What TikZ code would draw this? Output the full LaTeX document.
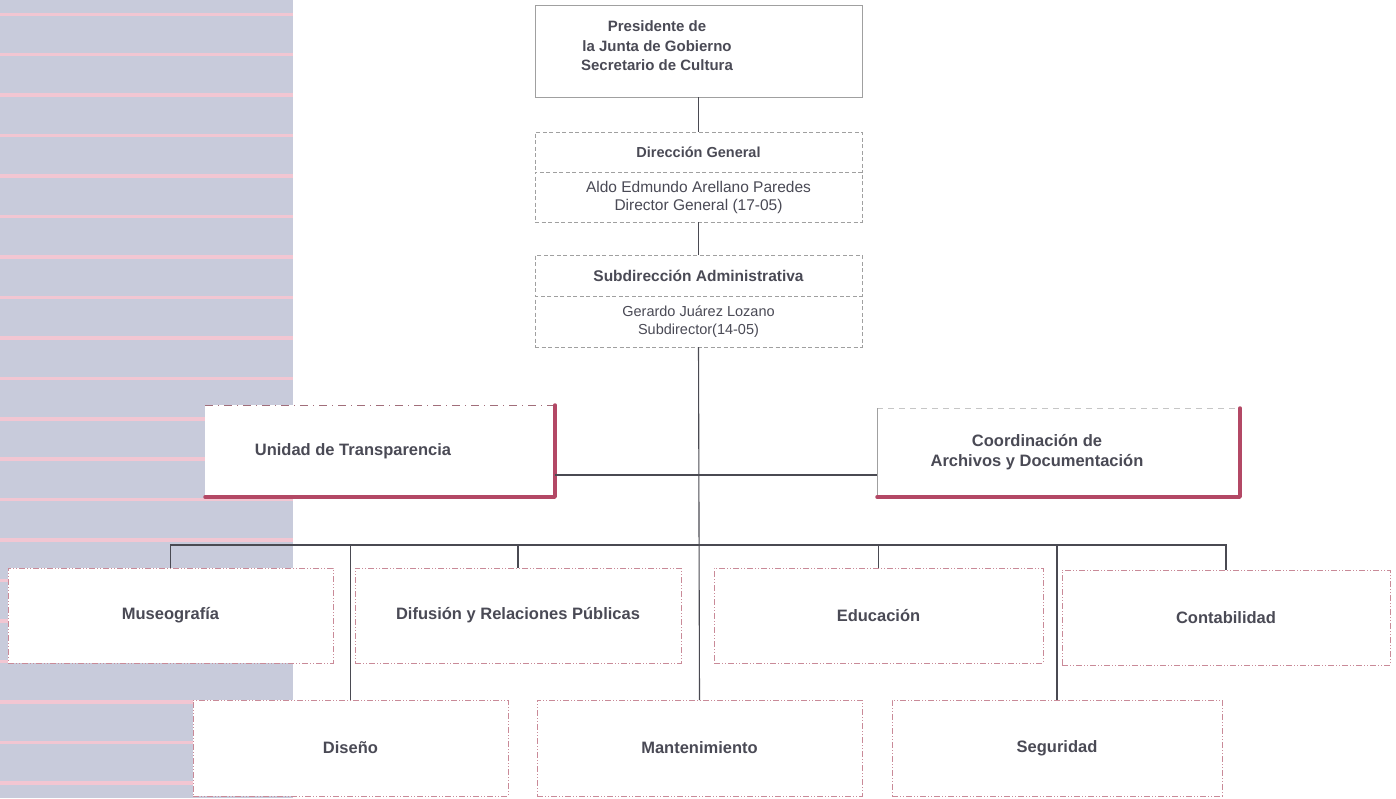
\documentclass[tikz,border=0pt]{standalone}
\usepackage{fontspec}
\setmainfont{Liberation Sans}
\definecolor{panel}{HTML}{C8CBDB}
\definecolor{stripe}{HTML}{F2C6D2}
\definecolor{txt}{HTML}{4A4A55}
\definecolor{conn}{HTML}{4A4A52}
\definecolor{redline}{HTML}{B34865}
\definecolor{pinkdash}{HTML}{C98A98}
\definecolor{graydash}{HTML}{A0A0A0}
\begin{document}
\begin{tikzpicture}[x=1pt,y=-1pt,
  every node/.style={inner sep=0pt,outer sep=0pt,text=txt,align=center},
  topbox/.style={draw=graydash,line width=0.8pt,fill=white},
  dtitle/.style={draw=graydash,line width=0.8pt,dash pattern=on 4pt off 2.5pt,fill=white},
  dname/.style={draw=graydash,line width=0.8pt,dash pattern=on 4pt off 2.5pt,fill=white},
  shbox/.style={fill=white},
  lbl/.style={font=\bfseries\fontsize{16.5}{20}\selectfont},
  unitbox/.style={draw=pinkdash,line width=0.8pt,dash pattern=on 6pt off 2pt on 1pt off 2pt on 1pt off 2pt,fill=white,font=\bfseries\fontsize{16.5}{20}\selectfont},
  link/.style={draw=conn,line width=1.1pt},
  shadow/.style={draw=redline,line width=3.5pt,line cap=round,line join=round}]
\useasboundingbox (0,0) rectangle (1396,798);
\fill[white] (0,0) rectangle (1396,798);
\fill[panel] (0,0) rectangle (293,798);
\foreach \k in {0,...,19} \fill[stripe] (0,{12.5+40.45*\k}) rectangle (293,{16+40.45*\k});

% top chain
\node[topbox,minimum width=327pt,minimum height=92pt] (pres) at (698.5,51) {};
\node[font=\bfseries\fontsize{15}{19.5}\selectfont] (prest) at (657,46) {Presidente de\\la Junta de Gobierno\\Secretario de Cultura};
\node[dtitle,minimum width=327pt,minimum height=40pt,font=\bfseries\fontsize{14.5}{18}\selectfont] (dg) at (698.5,152) {Dirección General};
\node[dname,minimum width=327pt,minimum height=50pt,font=\fontsize{15.5}{18}\selectfont] (dgn) at (698.5,197) {Aldo Edmundo Arellano Paredes\\Director General (17-05)};
\node[dtitle,minimum width=327pt,minimum height=41pt,font=\bfseries\fontsize{15.5}{18}\selectfont] (sa) at (698.5,275.5) {Subdirección Administrativa};
\node[dname,minimum width=327pt,minimum height=51pt,font=\fontsize{14.5}{18}\selectfont] (san) at (698.5,321.5) {Gerardo Juárez Lozano\\Subdirector(14-05)};

% staff units
\node[shbox,minimum width=350pt,minimum height=92pt] (uni) at (380,451) {};
\node[lbl] (unit) at (353,451) {Unidad de Transparencia};
\draw[pinkdash!80!black,line width=0.8pt,dash pattern=on 8pt off 5pt on 1pt off 5pt] (uni.north west) -- (uni.north east);
\draw[shadow] (uni.north east) -- (uni.south east) -- (uni.south west);
\node[shbox,minimum width=363pt,minimum height=89pt] (coord) at (1058.5,452.5) {};
\node[lbl] (coordt) at (1037,452) {Coordinación de\\Archivos y Documentación};
\draw[graydash!60,line width=0.6pt,dash pattern=on 6pt off 5pt] (coord.north west) -- (coord.north east);
\draw[graydash,line width=0.6pt] (coord.north west) -- (coord.south west);
\draw[shadow] (coord.north east) -- (coord.south east) -- (coord.south west);

% departments
\node[unitbox,minimum width=325pt,minimum height=95pt] (mus) at (170.5,615.5) {Museografía};
\node[unitbox,minimum width=326pt,minimum height=95pt] (dif) at (518,615.5) {Difusión y Relaciones Públicas};
\node[unitbox,minimum width=329pt,minimum height=95pt] (edu) at (878.5,615.5) {Educación};
\node[unitbox,minimum width=328pt,minimum height=95pt] (cont) at (1226,617.5) {Contabilidad};
\node[unitbox,minimum width=315pt,minimum height=96pt] (dis) at (350.5,748) {Diseño};
\node[unitbox,minimum width=325pt,minimum height=96pt] (man) at (699.5,748) {Mantenimiento};
\node[unitbox,minimum width=330pt,minimum height=96pt] (seg) at (1057,748) {Seguridad};

% connectors
\coordinate (mid) at (698.5,475);
\coordinate (br) at (698.5,545);
\draw[link] (pres.south) -- (dg.north);
\draw[link] (dgn.south) -- (sa.north);
\draw[link] (san.south) -- (man.north);
\draw[link] (uni.east |- mid) -- (coord.west |- mid);
\draw[link] (mus.north) -- (mus.north |- br) -- (cont.north |- br) -- (cont.north);
\draw[link] (dis.north) -- (dis.north |- br);
\draw[link] (dif.north) -- (dif.north |- br);
\draw[link] (edu.north) -- (edu.north |- br);
\draw[link] (seg.north) -- (seg.north |- br);
\end{tikzpicture}
\end{document}
